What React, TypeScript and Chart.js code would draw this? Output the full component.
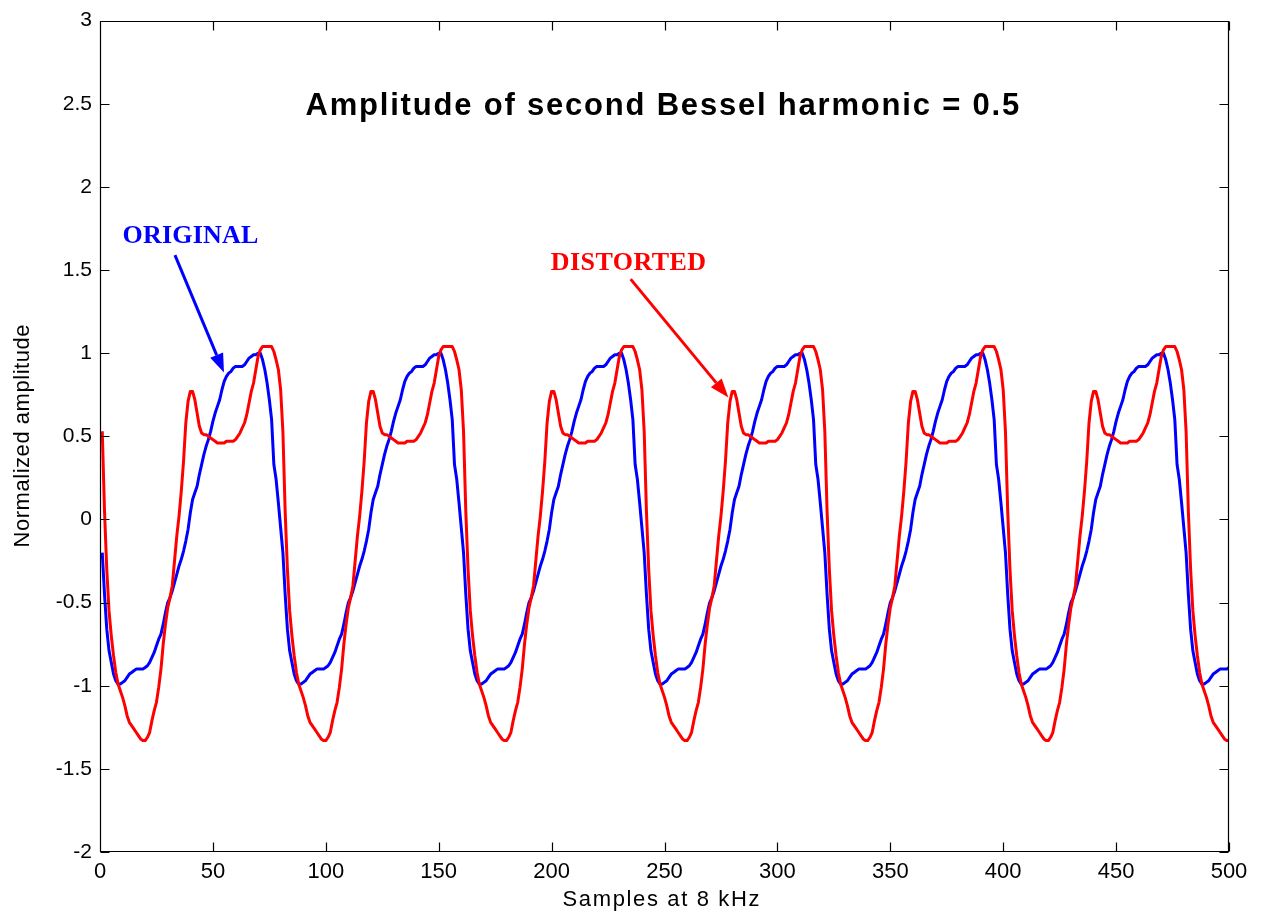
import { useEffect, useRef } from "react";
import { Chart, registerables } from "chart.js";

Chart.register(...registerables);

// Both waveforms repeat every 80 samples; one period (samples 1..80) of each.
const PERIOD = 80;
const SAMPLE_COUNT = 500;

const ORIGINAL_PERIOD = [
  -0.2, -0.45, -0.66, -0.79, -0.86, -0.93, -0.97, -0.99, -0.99, -0.98,
  -0.97, -0.95, -0.93, -0.92, -0.91, -0.9, -0.9, -0.9, -0.9, -0.89,
  -0.88, -0.86, -0.83, -0.8, -0.76, -0.72, -0.69, -0.63, -0.56, -0.5,
  -0.47, -0.43, -0.38, -0.33, -0.28, -0.24, -0.19, -0.13, -0.06, 0.04,
  0.12, 0.16, 0.2, 0.27, 0.33, 0.39, 0.44, 0.48, 0.53, 0.59,
  0.64, 0.68, 0.72, 0.78, 0.83, 0.86, 0.88, 0.89, 0.91, 0.92,
  0.92, 0.92, 0.92, 0.93, 0.95, 0.97, 0.98, 0.99, 0.99, 1.0,
  1.0, 0.96, 0.9, 0.82, 0.72, 0.6, 0.33, 0.24, 0.1, -0.05,
];

const DISTORTED_PERIOD = [
  0.53, 0.05, -0.3, -0.55, -0.7, -0.82, -0.92, -0.99, -1.03, -1.07,
  -1.12, -1.18, -1.22, -1.24, -1.26, -1.28, -1.3, -1.32, -1.33, -1.33,
  -1.31, -1.28, -1.21, -1.15, -1.1, -1.01, -0.9, -0.75, -0.63, -0.53,
  -0.47, -0.4, -0.25, -0.1, 0.02, 0.17, 0.35, 0.58, 0.71, 0.77,
  0.77, 0.72, 0.64, 0.56, 0.52, 0.51, 0.51, 0.5, 0.49, 0.48,
  0.47, 0.46, 0.46, 0.46, 0.46, 0.47, 0.47, 0.47, 0.47, 0.48,
  0.5, 0.52, 0.55, 0.58, 0.63, 0.7, 0.77, 0.82, 0.9, 0.98,
  1.02, 1.04, 1.04, 1.04, 1.04, 1.04, 1.01, 0.96, 0.9, 0.78,
];

const X_TICKS = [0, 50, 100, 150, 200, 250, 300, 350, 400, 450, 500];
const Y_TICKS = [-2, -1.5, -1, -0.5, 0, 0.5, 1, 1.5, 2, 2.5, 3];

const TITLE = "Amplitude of second Bessel harmonic = 0.5";
const X_LABEL = "Samples at 8 kHz";
const Y_LABEL = "Normalized amplitude";
const ORIGINAL_LABEL = "ORIGINAL";
const DISTORTED_LABEL = "DISTORTED";

const BLUE = "#0000ff";
const RED = "#ff0000";
const SANS = "'Liberation Sans', Arial, Helvetica, sans-serif";
const SERIF = "'Liberation Serif', 'Times New Roman', Times, serif";

function periodicSeries(period: number[]) {
  const pts: { x: number; y: number }[] = [];
  for (let n = 1; n <= SAMPLE_COUNT; n++) {
    pts.push({ x: n, y: period[(n - 1) % PERIOD] });
  }
  return pts;
}

// Text stretched to a given width with even letter spacing.
function spacedText(
  ctx: CanvasRenderingContext2D,
  text: string,
  left: number,
  baseline: number,
  width: number
) {
  const c = ctx as any;
  c.letterSpacing = "0px";
  const natural = ctx.measureText(text).width;
  const gap = Math.max(0, (width - natural) / (text.length - 1));
  c.letterSpacing = gap.toFixed(2) + "px";
  ctx.textAlign = "left";
  ctx.textBaseline = "alphabetic";
  ctx.fillText(text, left, baseline);
  c.letterSpacing = "0px";
}

function arrow(
  ctx: CanvasRenderingContext2D,
  x1: number,
  y1: number,
  x2: number,
  y2: number,
  color: string
) {
  const ang = Math.atan2(y2 - y1, x2 - x1);
  const headLen = 19;
  const headHalf = 7;
  const bx = x2 - headLen * Math.cos(ang);
  const by = y2 - headLen * Math.sin(ang);
  ctx.strokeStyle = color;
  ctx.fillStyle = color;
  ctx.lineWidth = 3;
  ctx.lineCap = "butt";
  ctx.beginPath();
  ctx.moveTo(x1, y1);
  ctx.lineTo(bx, by);
  ctx.stroke();
  ctx.beginPath();
  ctx.moveTo(x2, y2);
  ctx.lineTo(bx + headHalf * Math.sin(ang), by - headHalf * Math.cos(ang));
  ctx.lineTo(bx - headHalf * Math.sin(ang), by + headHalf * Math.cos(ang));
  ctx.closePath();
  ctx.fill();
}

const framePlugin = {
  id: "frame",
  afterDatasetsDraw(chart: any) {
    const { ctx, chartArea: a, scales } = chart;
    const xs = scales.x;
    const ys = scales.y;
    const px = (v: number) => xs.getPixelForValue(v);
    const py = (v: number) => ys.getPixelForValue(v);
    ctx.save();

    // axes box with inward ticks on all four sides
    ctx.strokeStyle = "#000";
    ctx.lineWidth = 1.2;
    const L = Math.round(a.left) + 0.5;
    const R = Math.round(a.right) - 0.5;
    const T = Math.round(a.top) + 0.5;
    const B = Math.round(a.bottom) - 0.5;
    ctx.beginPath();
    ctx.rect(L, T, R - L, B - T);
    const tick = 9;
    X_TICKS.forEach((v) => {
      const x = Math.round(px(v)) + 0.5;
      ctx.moveTo(x, B);
      ctx.lineTo(x, B - tick);
      ctx.moveTo(x, T);
      ctx.lineTo(x, T + tick);
    });
    Y_TICKS.forEach((v) => {
      const y = Math.round(py(v)) + 0.5;
      ctx.moveTo(L, y);
      ctx.lineTo(L + tick, y);
      ctx.moveTo(R, y);
      ctx.lineTo(R - tick, y);
    });
    ctx.stroke();

    // title inside the axes
    ctx.fillStyle = "#000";
    ctx.font = `bold 31px ${SANS}`;
    spacedText(ctx, TITLE, px(91), py(2.433), px(407) - px(91));

    // annotations
    ctx.font = `bold 26px ${SERIF}`;
    ctx.fillStyle = BLUE;
    spacedText(ctx, ORIGINAL_LABEL, px(10), py(1.665), px(70.1) - px(10));
    ctx.fillStyle = RED;
    spacedText(ctx, DISTORTED_LABEL, px(199.6), py(1.5), px(268.4) - px(199.6));

    arrow(ctx, px(33.2), py(1.59), px(54.9), py(0.883), BLUE);
    arrow(ctx, px(235), py(1.445), px(278.3), py(0.733), RED);

    // axis titles
    ctx.fillStyle = "#000";
    ctx.font = `22px ${SANS}`;
    const xw = 197;
    spacedText(ctx, X_LABEL, 661 - xw / 2, a.bottom + 54, xw);

    const yw = 223;
    ctx.translate(29, 436);
    ctx.rotate(-Math.PI / 2);
    spacedText(ctx, Y_LABEL, -yw / 2, 0, yw);

    ctx.restore();
  },
};

export default function App() {
  const ref = useRef<HTMLCanvasElement | null>(null);

  useEffect(() => {
    if (!ref.current) return;
    const chart = new Chart(ref.current, {
      type: "line",
      data: {
        datasets: [
          {
            label: "Distorted",
            data: periodicSeries(DISTORTED_PERIOD),
            borderColor: RED,
            borderWidth: 3,
            pointRadius: 0,
            tension: 0,
            fill: false,
            borderJoinStyle: "round",
          },
          {
            label: "Original",
            data: periodicSeries(ORIGINAL_PERIOD),
            borderColor: BLUE,
            borderWidth: 3,
            pointRadius: 0,
            tension: 0,
            fill: false,
            borderJoinStyle: "round",
          },
        ],
      },
      options: {
        animation: false,
        responsive: false,
        maintainAspectRatio: false,
        layout: { padding: { left: 8, right: 32, top: 16, bottom: 0 } },
        plugins: {
          legend: { display: false },
          tooltip: { enabled: false },
          title: { display: false },
        },
        scales: {
          x: {
            type: "linear",
            min: 0,
            max: 500,
            grid: { display: false, drawTicks: false },
            border: { display: false },
            afterBuildTicks: (s: any) => {
              s.ticks = X_TICKS.map((v) => ({ value: v }));
            },
            afterFit: (s: any) => {
              s.height = 61;
            },
            ticks: {
              color: "#000",
              font: { family: SANS, size: 22 },
              padding: 7,
              maxRotation: 0,
              autoSkip: false,
            },
          },
          y: {
            type: "linear",
            min: -2,
            max: 3,
            grid: { display: false, drawTicks: false },
            border: { display: false },
            afterBuildTicks: (s: any) => {
              s.ticks = Y_TICKS.map((v) => ({ value: v }));
            },
            afterFit: (s: any) => {
              s.width = 92;
            },
            ticks: {
              color: "#000",
              font: { family: SANS, size: 21 },
              padding: 8,
              autoSkip: false,
              callback: (v: any) => String(v),
            },
          },
        },
      },
      plugins: [framePlugin],
    });
    return () => chart.destroy();
  }, []);

  return (
    <div style={{ position: "fixed", left: 0, top: 0, width: 1261, height: 913, background: "#fff" }}>
      <canvas ref={ref} width={1261} height={913} style={{ display: "block" }} />
    </div>
  );
}
